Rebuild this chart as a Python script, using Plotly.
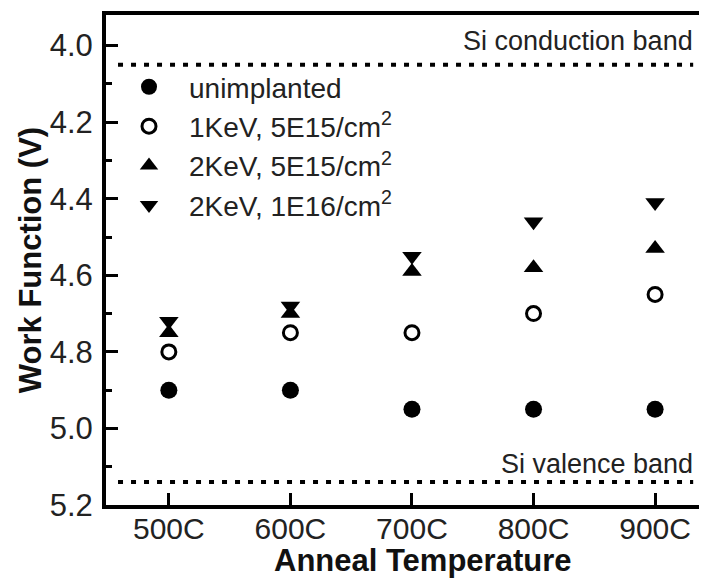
import plotly.graph_objects as go

temps = ["500C", "600C", "700C", "800C", "900C"]
unimplanted = [4.90, 4.90, 4.95, 4.95, 4.95]
kev1_5e15 = [4.80, 4.75, 4.75, 4.70, 4.65]
kev2_5e15 = [4.75, 4.70, 4.59, 4.58, 4.53]
kev2_1e16 = [4.72, 4.68, 4.55, 4.46, 4.41]
conduction_band = 4.05
valence_band = 5.14
y_ticks = [4.0, 4.2, 4.4, 4.6, 4.8, 5.0, 5.2]

FONT = "Liberation Sans, Arial, Helvetica, sans-serif"
INK = "#111111"

fig = go.Figure()
series = [
    ("unimplanted", unimplanted, "circle", 17),
    ("1KeV, 5E15/cm<sup>2</sup>", kev1_5e15, "circle-open", 14),
    ("2KeV, 5E15/cm<sup>2</sup>", kev2_5e15, "triangle-up", 17),
    ("2KeV, 1E16/cm<sup>2</sup>", kev2_1e16, "triangle-down", 17),
]
for name, vals, sym, size in series:
    fig.add_trace(go.Scatter(
        x=temps, y=vals, mode="markers", name=name,
        marker=dict(symbol=sym, size=size, color="black",
                    line=dict(color="black", width=3 if sym == "circle-open" else 0)),
    ))

# band edges
for lvl in (conduction_band, valence_band):
    fig.add_shape(type="line", xref="paper", yref="y", x0=0.02, x1=0.977,
                  y0=lvl, y1=lvl, line=dict(color="black", width=4, dash="5px,8px"))

fig.add_annotation(text="Si conduction band", xref="paper", yref="y", x=0.98, y=conduction_band,
                   xanchor="right", yanchor="bottom", yshift=7, showarrow=False,
                   font=dict(family=FONT, size=27, color="#222"))
fig.add_annotation(text="Si valence band", xref="paper", yref="y", x=0.98, y=valence_band,
                   xanchor="right", yanchor="bottom", yshift=1, showarrow=False,
                   font=dict(family=FONT, size=27, color="#222"))
# x-axis title
fig.add_annotation(text="<b>Anneal Temperature</b>", xref="paper", yref="paper", x=0.526, y=-0.113,
                   xanchor="center", yanchor="middle", showarrow=False,
                   font=dict(family=FONT, size=31, color=INK))

fig.update_layout(
    width=699, height=573,
    margin=dict(l=98, r=0, t=7, b=76, autoexpand=False),
    paper_bgcolor="white", plot_bgcolor="white",
    font=dict(family=FONT, color=INK),
    showlegend=True,
    legend=dict(x=0.005, y=0.904, xanchor="left", yanchor="top",
                font=dict(family=FONT, size=28, color="#222"),
                itemwidth=70, bgcolor="rgba(0,0,0,0)", borderwidth=0),
    xaxis=dict(
        range=[-0.517, 4.427], showgrid=False, zeroline=False, automargin=False,
        showline=True, linewidth=4, linecolor="black", mirror=True,
        ticks="inside", ticklen=12, tickwidth=3, tickcolor="black",
        tickfont=dict(family=FONT, size=30, color="#222"),
        ticklabelstandoff=-6,
    ),
    yaxis=dict(
        range=[5.2, 3.92], showgrid=False, zeroline=False, automargin=False,
        showline=True, linewidth=4, linecolor="black", mirror=False,
        tickmode="array", tickvals=y_ticks, tickformat=".1f",
        ticks="inside", ticklen=12, tickwidth=3, tickcolor="black",
        minor=dict(dtick=0.1, ticks="inside", ticklen=6, tickwidth=3, tickcolor="black"),
        tickfont=dict(family=FONT, size=31, color="#222"),
        ticklabelstandoff=3,
        title=dict(text="<b>Work Function (V)</b>", font=dict(family=FONT, size=31, color=INK), standoff=0),
    ),
)

fig.write_html("out.html")
